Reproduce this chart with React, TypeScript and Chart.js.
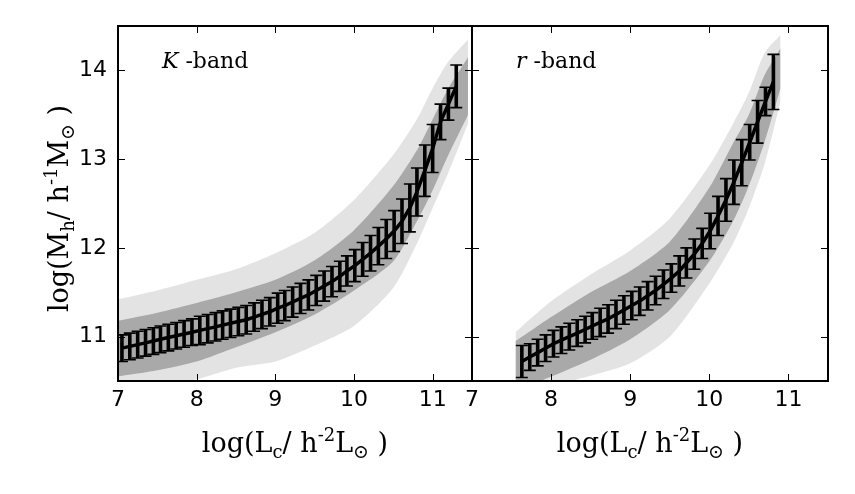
import React, { useEffect, useRef } from 'react';
import { Chart, registerables } from 'chart.js';

Chart.register(...registerables);

// ---------- axes ----------
const X_TICKS = [7, 8, 9, 10, 11];
const Y_TICKS = [11, 12, 13, 14];
const X_MIN = 7;
const X_MAX = 11.5;
const Y_MIN = 10.5;
const Y_MAX = 14.5;

// ---------- K-band: binned mean relation with error bars ----------
const K_LC = [7.05, 7.15, 7.25, 7.35, 7.45, 7.54, 7.64, 7.74, 7.84, 7.94, 8.04, 8.14, 8.24, 8.33, 8.43, 8.53, 8.63, 8.73, 8.83, 8.93, 9.03, 9.12, 9.22, 9.32, 9.42, 9.52, 9.62, 9.72, 9.82, 9.91, 10.01, 10.11, 10.21, 10.31, 10.41, 10.51, 10.61, 10.71, 10.8, 10.9, 11.0, 11.1, 11.2, 11.3];
const K_MH = [10.87, 10.89, 10.91, 10.93, 10.95, 10.97, 10.99, 11.01, 11.03, 11.05, 11.07, 11.09, 11.11, 11.13, 11.15, 11.17, 11.19, 11.22, 11.25, 11.28, 11.32, 11.35, 11.39, 11.43, 11.47, 11.52, 11.57, 11.62, 11.68, 11.74, 11.8, 11.87, 11.94, 12.02, 12.1, 12.19, 12.3, 12.45, 12.63, 12.87, 13.12, 13.42, 13.62, 13.82];
const K_ERR = [0.15, 0.15, 0.15, 0.15, 0.15, 0.15, 0.15, 0.15, 0.15, 0.15, 0.16, 0.16, 0.16, 0.16, 0.16, 0.16, 0.16, 0.16, 0.16, 0.16, 0.17, 0.17, 0.17, 0.17, 0.17, 0.17, 0.17, 0.17, 0.17, 0.17, 0.18, 0.19, 0.2, 0.21, 0.22, 0.23, 0.25, 0.27, 0.27, 0.29, 0.27, 0.2, 0.18, 0.24];

// K-band scatter cloud envelopes (outer sparse region and dense core)
const K_CLOUD_X = [7.0, 7.5, 8.0, 8.5, 9.0, 9.5, 10.0, 10.5, 10.8, 11.0, 11.2, 11.45];
const K_OUTER_HI = [11.42, 11.52, 11.64, 11.76, 11.94, 12.17, 12.54, 13.05, 13.45, 13.8, 14.1, 14.35];
const K_CORE_HI = [11.18, 11.27, 11.38, 11.5, 11.64, 11.86, 12.2, 12.7, 13.1, 13.45, 13.8, 14.15];
const K_CORE_LO = [10.55, 10.62, 10.72, 10.88, 11.05, 11.25, 11.52, 11.85, 12.3, 12.65, 13.05, 13.5];
const K_OUTER_LO = [10.4, 10.45, 10.52, 10.65, 10.72, 10.9, 11.12, 11.55, 12.05, 12.45, 12.85, 13.4];

// ---------- r-band ----------
const R_LC = [7.63, 7.73, 7.83, 7.93, 8.03, 8.13, 8.23, 8.33, 8.43, 8.52, 8.62, 8.72, 8.82, 8.92, 9.02, 9.12, 9.22, 9.32, 9.42, 9.52, 9.62, 9.71, 9.81, 9.91, 10.01, 10.11, 10.21, 10.31, 10.41, 10.51, 10.61, 10.71, 10.81];
const R_MH = [10.72, 10.77, 10.82, 10.87, 10.92, 10.96, 11.0, 11.04, 11.08, 11.12, 11.16, 11.2, 11.25, 11.3, 11.35, 11.4, 11.46, 11.52, 11.59, 11.66, 11.74, 11.83, 11.93, 12.05, 12.19, 12.36, 12.54, 12.74, 12.96, 13.19, 13.42, 13.65, 13.87];
const R_ERR = [0.18, 0.15, 0.15, 0.15, 0.15, 0.15, 0.15, 0.15, 0.15, 0.15, 0.16, 0.16, 0.16, 0.16, 0.16, 0.16, 0.16, 0.16, 0.16, 0.16, 0.17, 0.17, 0.17, 0.17, 0.2, 0.22, 0.24, 0.25, 0.26, 0.2, 0.24, 0.16, 0.31];

const R_CLOUD_X = [7.55, 7.8, 8.0, 8.5, 9.0, 9.5, 10.0, 10.3, 10.5, 10.7, 10.9];
const R_OUTER_HI = [11.05, 11.25, 11.4, 11.7, 11.97, 12.33, 12.93, 13.4, 13.75, 14.2, 14.4];
const R_CORE_HI = [10.95, 11.1, 11.22, 11.5, 11.74, 12.07, 12.68, 13.18, 13.5, 13.95, 14.25];
const R_CORE_LO = [10.45, 10.48, 10.55, 10.74, 10.97, 11.3, 11.85, 12.3, 12.7, 13.2, 13.8];
const R_OUTER_LO = [10.4, 10.42, 10.45, 10.56, 10.7, 11.0, 11.6, 12.05, 12.45, 12.95, 13.65];

// ---------- text ----------
type Seg = { t: string; size: number; dy?: number; italic?: boolean };
const X_TITLE: Seg[] = [
  { t: 'log(L', size: 27 },
  { t: 'c', size: 18, dy: 6 },
  { t: '/ h', size: 27 },
  { t: '-2', size: 18, dy: -11 },
  { t: 'L', size: 27 },
  { t: '\u2299', size: 19, dy: 6 },
  { t: ' )', size: 27 },
];
const Y_TITLE: Seg[] = [
  { t: 'log(M', size: 27 },
  { t: 'h', size: 18, dy: 6 },
  { t: '/ h', size: 27 },
  { t: '-1', size: 18, dy: -11 },
  { t: 'M', size: 27 },
  { t: '\u2299', size: 19, dy: 6 },
  { t: ' )', size: 27 },
];
const K_LABEL: Seg[] = [
  { t: 'K', size: 22, italic: true },
  { t: ' -band', size: 22 },
];
const R_LABEL: Seg[] = [
  { t: 'r', size: 22, italic: true },
  { t: ' -band', size: 22 },
];

const SERIF = '"DejaVu Serif", serif';
const SANS = '"DejaVu Sans", sans-serif';

function fontOf(s: Seg) {
  return `${s.italic ? 'italic ' : ''}${s.size}px ${SERIF}`;
}

function drawRich(ctx: CanvasRenderingContext2D, segs: Seg[], x: number, y: number, center: boolean, rotate: boolean) {
  ctx.save();
  let total = 0;
  const widths = segs.map((s) => {
    ctx.font = fontOf(s);
    const w = ctx.measureText(s.t).width;
    total += w;
    return w;
  });
  ctx.translate(x, y);
  if (rotate) ctx.rotate(-Math.PI / 2);
  let cx = center ? -total / 2 : 0;
  ctx.fillStyle = '#000';
  ctx.textAlign = 'left';
  ctx.textBaseline = 'alphabetic';
  segs.forEach((s, i) => {
    ctx.font = fontOf(s);
    ctx.fillText(s.t, cx, s.dy || 0);
    cx += widths[i];
  });
  ctx.restore();
}

const errorBarPlugin = {
  id: 'errorBars',
  afterDatasetsDraw(chart: any) {
    const { ctx, chartArea } = chart;
    const xs = chart.scales.x;
    const ys = chart.scales.y;
    ctx.save();
    ctx.beginPath();
    ctx.rect(chartArea.left, chartArea.top, chartArea.right - chartArea.left, chartArea.bottom - chartArea.top);
    ctx.clip();
    ctx.strokeStyle = '#000';
    chart.data.datasets.forEach((ds: any) => {
      if (!ds.errors) return;
      ds.data.forEach((p: any, i: number) => {
        const e = ds.errors[i];
        const px = xs.getPixelForValue(p.x);
        const top = ys.getPixelForValue(p.y + e);
        const bot = ys.getPixelForValue(p.y - e);
        ctx.lineWidth = 3.6;
        ctx.beginPath();
        ctx.moveTo(px, top);
        ctx.lineTo(px, bot);
        ctx.stroke();
        ctx.lineWidth = 1.6;
        ctx.beginPath();
        ctx.moveTo(px - 6, top);
        ctx.lineTo(px + 6, top);
        ctx.moveTo(px - 6, bot);
        ctx.lineTo(px + 6, bot);
        ctx.stroke();
      });
    });
    ctx.restore();
  },
};

const framePlugin = {
  id: 'frame',
  afterDraw(chart: any, _args: any, opts: any) {
    const { ctx, chartArea } = chart;
    const { left, right, top, bottom } = chartArea;
    const xs = chart.scales.x;
    const ys = chart.scales.y;
    ctx.save();
    ctx.strokeStyle = '#000';
    ctx.lineWidth = 1;
    const tl = 7;
    ctx.beginPath();
    X_TICKS.forEach((v) => {
      const px = Math.round(xs.getPixelForValue(v)) + 0.5;
      if (px <= left + 1 || px >= right - 1) return;
      ctx.moveTo(px, bottom);
      ctx.lineTo(px, bottom - tl);
      ctx.moveTo(px, top);
      ctx.lineTo(px, top + tl);
    });
    Y_TICKS.forEach((v) => {
      const py = Math.round(ys.getPixelForValue(v)) + 0.5;
      ctx.moveTo(left, py);
      ctx.lineTo(left + tl, py);
      ctx.moveTo(right, py);
      ctx.lineTo(right - tl, py);
    });
    ctx.stroke();
    ctx.lineWidth = 2;
    ctx.strokeRect(left, top, right - left, bottom - top);
    ctx.restore();

    if (opts.label) drawRich(ctx, opts.label, left + 44, top + 42, false, false);
    if (opts.xTitle) drawRich(ctx, opts.xTitle, (left + right) / 2, bottom + 71, true, false);
    if (opts.yTitle) drawRich(ctx, opts.yTitle, left - 50, (top + bottom) / 2 + 5, true, true);
  },
};

function zip(xs: number[], ys: number[]) {
  return xs.map((x, i) => ({ x, y: ys[i] }));
}

function buildConfig(
  lc: number[], mh: number[], err: number[],
  cx: number[], oHi: number[], cHi: number[], cLo: number[], oLo: number[],
  label: Seg[], showY: boolean, yWidth: number, padRight: number,
): any {
  const band = (data: any[], fill: any, color: string) => ({
    data,
    fill,
    backgroundColor: color,
    borderWidth: 0,
    pointRadius: 0,
    tension: 0.25,
  });
  return {
    type: 'line',
    data: {
      datasets: [
        {
          data: zip(lc, mh),
          errors: err,
          borderColor: '#000',
          borderWidth: 3.5,
          pointRadius: 0,
          fill: false,
          tension: 0,
        },
        band(zip(cx, cHi), '+1', 'rgba(150,150,150,0.75)'),
        band(zip(cx, cLo), false, 'rgba(0,0,0,0)'),
        band(zip(cx, oHi), '+1', 'rgba(175,175,175,0.35)'),
        band(zip(cx, oLo), false, 'rgba(0,0,0,0)'),
      ],
    },
    options: {
      animation: false,
      responsive: false,
      maintainAspectRatio: false,
      events: [],
      layout: { padding: { left: 0, right: padRight, top: 26, bottom: 0 } },
      plugins: {
        legend: { display: false },
        tooltip: { enabled: false },
        frame: { label, xTitle: X_TITLE, yTitle: showY ? Y_TITLE : null },
      },
      scales: {
        x: {
          type: 'linear',
          min: X_MIN,
          max: X_MAX,
          grid: { display: false, drawTicks: false },
          border: { display: false },
          ticks: {
            color: '#000',
            font: { family: SANS, size: 22 },
            padding: 6,
            maxRotation: 0,
            autoSkip: false,
            callback: (v: any) => String(v),
          },
          afterBuildTicks: (s: any) => {
            s.ticks = X_TICKS.map((v) => ({ value: v }));
          },
          afterFit: (s: any) => {
            s.height = 113;
          },
        },
        y: {
          type: 'linear',
          min: Y_MIN,
          max: Y_MAX,
          grid: { display: false, drawTicks: false },
          border: { display: false },
          ticks: {
            display: showY,
            color: '#000',
            font: { family: SANS, size: 22 },
            padding: 11,
            autoSkip: false,
            callback: (v: any) => String(v),
          },
          afterBuildTicks: (s: any) => {
            s.ticks = Y_TICKS.map((v) => ({ value: v }));
          },
          afterFit: (s: any) => {
            s.width = yWidth;
          },
        },
      },
    },
    plugins: [errorBarPlugin, framePlugin],
  };
}

export default function App() {
  const leftRef = useRef<HTMLCanvasElement>(null);
  const rightRef = useRef<HTMLCanvasElement>(null);

  useEffect(() => {
    const c1 = new Chart(
      leftRef.current as HTMLCanvasElement,
      buildConfig(K_LC, K_MH, K_ERR, K_CLOUD_X, K_OUTER_HI, K_CORE_HI, K_CORE_LO, K_OUTER_LO, K_LABEL, true, 118, 2),
    );
    const c2 = new Chart(
      rightRef.current as HTMLCanvasElement,
      buildConfig(R_LC, R_MH, R_ERR, R_CLOUD_X, R_OUTER_HI, R_CORE_HI, R_CORE_LO, R_OUTER_LO, R_LABEL, false, 32, 27),
    );
    return () => {
      c1.destroy();
      c2.destroy();
    };
  }, []);

  return (
    <div style={{ position: 'absolute', left: 0, top: 0, width: 855, height: 494, background: '#fff' }}>
      <canvas ref={leftRef} width={474} height={494} style={{ position: 'absolute', left: 0, top: 0, width: 474, height: 494 }} />
      <canvas ref={rightRef} width={415} height={494} style={{ position: 'absolute', left: 440, top: 0, width: 415, height: 494 }} />
    </div>
  );
}
